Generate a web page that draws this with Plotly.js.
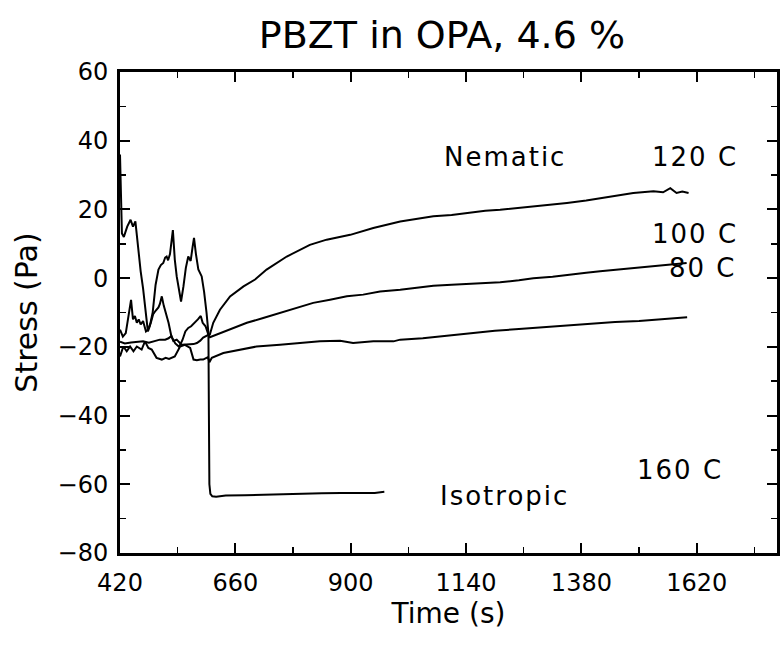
<!DOCTYPE html>
<html>
<head>
<meta charset="utf-8">
<script src="https://cdn.plot.ly/plotly-3.0.1.min.js"></script>
<style>
html,body{margin:0;padding:0;background:#fff;}
#chart{width:783px;height:648px;}
#chart .annotation-text{letter-spacing:2px;}
</style>
</head>
<body>
<div id="chart"></div>
<script>
// 160 C (isotropic) run
const t160 = [420,422,424,428,435,442,447,452,458,463,468,474,478,482,488,494,500,505,510,514,517,520,524,530,534,538,543,547,552,557,562,567,571,574,578,583,590,595,600,604,605,606,608,612,620,640,680,720,760,800,840,880,920,950,970];
const s160 = [36,22,13,12,15,17,15,16.5,8,2,-3,-11,-15.5,-14,-10,-2,2.5,3.8,4.4,6,6.3,5.2,7,14,5.4,0.5,-3,-6.8,-2.4,3,6.3,5,9,11.7,7,2.5,0.5,-4,-10,-16,-40,-60,-62.8,-63.5,-63.6,-63.3,-63.2,-63.0,-62.9,-62.8,-62.6,-62.5,-62.4,-62.5,-62.2];

// 120 C run
const t120 = [420,426,432,438,443,447,451,455,459,463,468,474,478,484,489,494,500,503,507,511,515,521,527,535,543,550,556,562,568,576,582,588,592,598,604,607,614,628,649,677,701,725,767,815,850,899,947,1003,1040,1072,1110,1141,1180,1211,1250,1280,1320,1350,1390,1419,1460,1488,1530,1550,1565,1578,1590,1603];
const s120 = [-15,-17,-16,-10,-6.3,-12,-11,-13,-12,-13.5,-12.5,-15.5,-15,-13,-10.5,-9.5,-8.5,-7.5,-5.3,-8,-10,-13,-17,-19,-20,-18,-15.5,-14.5,-14,-13,-12,-11,-13,-14,-16.5,-16.4,-13,-9.2,-5.3,-2.4,-0.4,2.5,6.3,9.7,11.2,12.6,14.6,16.5,17.2,18,18.4,19,19.6,19.9,20.4,20.9,21.3,21.9,22.6,23.3,24.2,24.8,25.3,25.0,26.2,24.8,25.2,24.8];

// 100 C run
const t100 = [420,430,443,455,468,480,492,503,514,521,527,531,538,548,558,566,573,580,587,593,600,604,607,621,649,684,718,753,788,822,857,892,926,961,1003,1040,1072,1110,1141,1180,1211,1250,1280,1320,1350,1390,1419,1460,1488,1530,1560,1599];
const s100 = [-18.5,-19,-18.7,-18.6,-18.4,-18.8,-18.3,-17.9,-17.9,-17.5,-16.8,-18.3,-17.9,-19.4,-19.3,-19.3,-19.2,-18.9,-18.2,-17.3,-16.8,-16.5,-17.2,-16.4,-15,-13,-11.6,-10.1,-8.7,-7.2,-6.3,-5.3,-4.8,-3.9,-3.4,-2.8,-2.2,-1.9,-1.7,-1.5,-1.2,-0.6,0,0.4,1,1.6,2,2.5,2.9,3.4,3.8,4.4];

// 80 C run
const t80 = [420,427,434,441,448,455,465,472,479,486,496,507,515,522,534,545,555,566,573,580,587,593,600,603,606,611,635,670,704,753,795,836,878,905,947,989,1003,1050,1100,1140,1200,1250,1300,1350,1400,1450,1500,1550,1600];
const s80 = [-22.8,-19.9,-21.3,-19.9,-21.3,-19.9,-20.8,-18.4,-20.3,-20.8,-23.2,-23.7,-23.2,-23.5,-22.8,-19.9,-19.4,-20.3,-23.7,-23.9,-23.7,-23.7,-23.2,-23.0,-24.5,-23.2,-21.8,-20.8,-19.9,-19.4,-18.9,-18.4,-18.2,-18.9,-18.4,-18.4,-17.9,-17.5,-16.8,-16.2,-15.3,-14.8,-14.3,-13.6,-13.2,-12.8,-12.5,-12.0,-11.4];

const labelText = ["Nematic","120 C","100 C","80 C","160 C","Isotropic"];
const labelX = [1221,1700,1700,1700,1669,1221];
const labelY = [35.4,35.4,12.8,3.0,-55.7,-63.3];
const labelAnchor = ['center','right','right','right','right','center'];

const FONT = "DejaVu Sans, Liberation Sans, sans-serif";
const TITLEFONT = "DejaVu Sans ExtraLight, DejaVu Sans, sans-serif";
const line = {color:'#000', width:2};
const traces = [
  {x:t160, y:s160, mode:'lines', line:line, name:'160 C'},
  {x:t120, y:s120, mode:'lines', line:line, name:'120 C'},
  {x:t100, y:s100, mode:'lines', line:line, name:'100 C'},
  {x:t80, y:s80, mode:'lines', line:line, name:'80 C'}
];

const annotations = labelText.map((t,i)=>({
  x:labelX[i], y:labelY[i], xref:'x', yref:'y', text:t, showarrow:false,
  xanchor:labelAnchor[i], yanchor:'middle', font:{family:FONT, size:26, color:'#000'}
}));

const layout = {
  width:783, height:648,
  margin:{l:120, r:6, t:72, b:95},
  paper_bgcolor:'#fff', plot_bgcolor:'#fff',
  showlegend:false,
  font:{family:FONT, color:'#000'},
  title:{text:'PBZT in OPA, 4.6 %', font:{family:TITLEFONT, size:38, color:'#000'}, xref:'paper', x:0.49, xanchor:'center', yref:'container', y:0.946, yanchor:'middle'},
  xaxis:{
    range:[420,1787], tickvals:[420,660,900,1140,1380,1620], ticks:'inside', ticklen:10, tickwidth:2, tickcolor:'#000',
    showline:true, linecolor:'#000', linewidth:3, mirror:'ticks', showgrid:false, zeroline:false,
    minor:{dtick:120, tick0:420, ticks:'inside', ticklen:6, tickwidth:1.5, tickcolor:'#000', showgrid:false},
    tickfont:{family:FONT, size:24, color:'#000'}, ticklabelstandoff:6,
    title:{text:'Time (s)', font:{family:FONT, size:28, color:'#000'}, standoff:2}
  },
  yaxis:{
    range:[-80,60], dtick:20, tick0:-80, ticks:'inside', ticklen:10, tickwidth:2, tickcolor:'#000',
    showline:true, linecolor:'#000', linewidth:3, mirror:'ticks', showgrid:false, zeroline:false,
    minor:{dtick:10, ticks:'inside', ticklen:6, tickwidth:1.5, tickcolor:'#000', showgrid:false},
    tickfont:{family:FONT, size:24, color:'#000'}, ticklabelstandoff:4,
    title:{text:'Stress (Pa)', font:{family:FONT, size:30, color:'#000'}, standoff:12}
  },
  annotations:annotations
};

Plotly.newPlot('chart', traces, layout, {staticPlot:true, displayModeBar:false});
</script>
</body>
</html>
